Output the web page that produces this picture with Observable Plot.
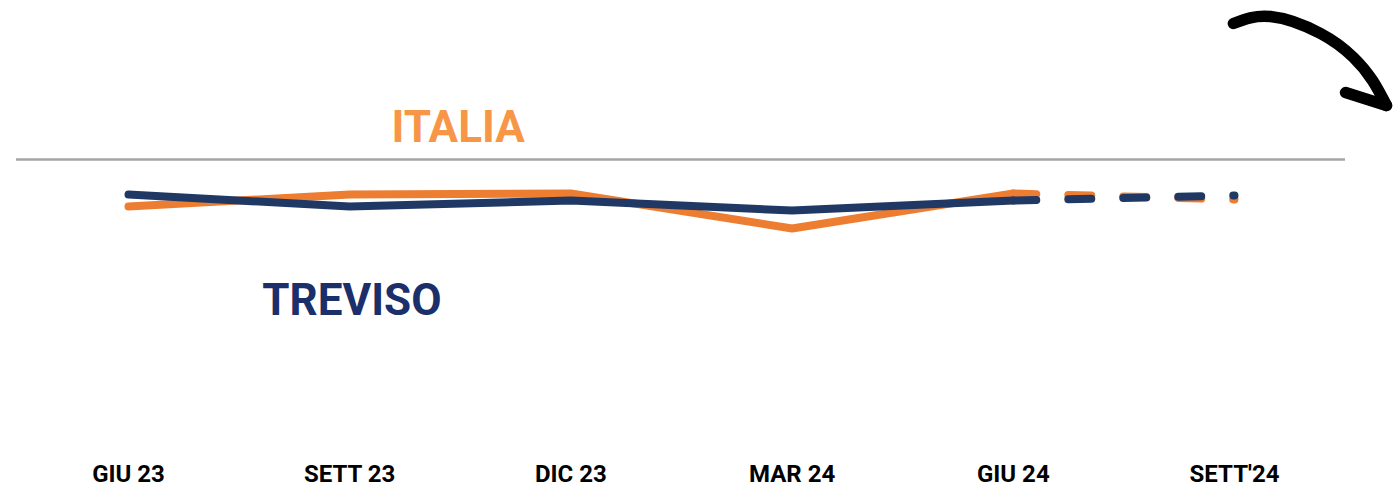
<!DOCTYPE html>
<html>
<head>
<meta charset="utf-8">
<script src="https://cdn.jsdelivr.net/npm/d3@7"></script>
<script src="https://cdn.jsdelivr.net/npm/@observablehq/plot@0.6"></script>
<style>
  html, body { margin: 0; padding: 0; background: #fff; }
  #chart svg { display: block; }
</style>
</head>
<body>
<div id="chart"></div>
<script>
// ---- data ----
const months = ["GIU 23", "SETT 23", "DIC 23", "MAR 24", "GIU 24", "SETT'24"];
const italia = [4.7, 5.3, 5.35, 3.6, 5.35, 5.05];
const treviso = [5.3, 4.7, 5.0, 4.5, 5.0, 5.25];
const forecastFrom = 4; // index where dashed (forecast) part begins
const seriesNames = ["ITALIA", "TREVISO"];
const referenceLevel = [7.05];
// series label positions (data units)
const labelX = [1.49, 1.01];
const labelY = [8.65, 0.0];
// decorative arrow (data units)
const arrowX = [4.995, 5.163, 5.389, 5.538, 5.624, 5.687];
const arrowY = [13.85, 14.2, 13.35, 12.15, 11.0, 9.75];
const barbX = [5.502, 5.687];
const barbY = [10.4, 9.75];

const colors = { ITALIA: "#ED7D31", TREVISO: "#203864" };
const textColors = { ITALIA: "#F79646", TREVISO: "#1B2F6A" };

const rows = (name, vals) => vals.map((v, i) => ({ series: name, i, v }));
const solid = (name, vals) => rows(name, vals).filter(d => d.i <= forecastFrom);
const dashed = (name, vals) => rows(name, vals).filter(d => d.i >= forecastFrom);
const labels = seriesNames.map((s, k) => ({ s, x: labelX[k], y: labelY[k] }));
const arrowPts = arrowX.map((x, k) => ({ x, y: arrowY[k] }));
const barbPts = barbX.map((x, k) => ({ x, y: barbY[k] }));

const chart = Plot.plot({
  width: 1393,
  height: 486,
  marginLeft: 16,
  marginRight: 48,
  marginTop: 0,
  marginBottom: 22,
  style: { fontFamily: "Roboto, 'Open Sans', sans-serif", background: "#fff", overflow: "visible" },
  x: { type: "linear", domain: [0, 5], range: [128, 1234] },
  y: { type: "linear", domain: [0, 10], range: [300, 100], axis: null },
  marks: [
    Plot.ruleY(referenceLevel, { stroke: "#A6A6A6", strokeWidth: 2.5 }),
    Plot.line(solid("ITALIA", italia), { x: "i", y: "v", stroke: colors.ITALIA, strokeWidth: 8, strokeLinecap: "round", strokeLinejoin: "round" }),
    Plot.line(dashed("ITALIA", italia), { x: "i", y: "v", stroke: colors.ITALIA, strokeWidth: 8, strokeLinecap: "round", strokeDasharray: "23,32" }),
    Plot.line(solid("TREVISO", treviso), { x: "i", y: "v", stroke: colors.TREVISO, strokeWidth: 8, strokeLinecap: "round", strokeLinejoin: "round" }),
    Plot.line(dashed("TREVISO", treviso), { x: "i", y: "v", stroke: colors.TREVISO, strokeWidth: 8, strokeLinecap: "round", strokeDasharray: "23,32" }),
    Plot.text(labels, { x: "x", y: "y", text: "s", fill: d => textColors[d.s], fontSize: 44, fontWeight: "bold", textAnchor: "middle", lineAnchor: "middle" }),
    Plot.line(arrowPts, { x: "x", y: "y", curve: "natural", stroke: "#000", strokeWidth: 11.5, strokeLinecap: "round", strokeLinejoin: "round" }),
    Plot.line(barbPts, { x: "x", y: "y", stroke: "#000", strokeWidth: 11.5, strokeLinecap: "round" }),
    Plot.axisX({ ticks: d3.range(months.length), tickFormat: i => months[i], tickSize: 0, tickPadding: 0, fontSize: 24, fontWeight: "bold", color: "#000", label: null })
  ]
});
document.getElementById("chart").append(chart);
</script>
</body>
</html>
